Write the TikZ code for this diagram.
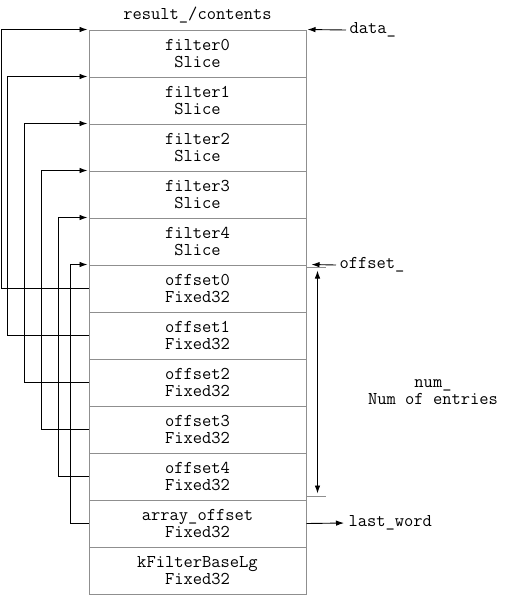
\documentclass[tikz,border=0pt]{standalone}
\usepackage{fontspec}
\usepackage{tikz}
\usetikzlibrary{positioning,arrows.meta,calc}
\definecolor{cellgray}{HTML}{8F8F8F}

\begin{document}
\begin{tikzpicture}[x=1pt,y=-1pt,font=\ttfamily\fontsize{18}{17}\selectfont,
  c/.style={draw=cellgray,line width=1pt,minimum width=217pt,minimum height=47pt,align=center,inner sep=0pt},
  a/.style={-{Latex[length=8pt,width=5.5pt]},line width=0.9pt,shorten >=1pt},
  t/.style={draw=cellgray,line width=1pt}]
  \useasboundingbox (0,0) rectangle (506,595);
  \foreach \i/\a/\n in {0/filter0/Slice, 1/filter1/Slice, 2/filter2/Slice, 3/filter3/Slice, 4/filter4/Slice,
    5/offset0/Fixed32, 6/offset1/Fixed32, 7/offset2/Fixed32, 8/offset3/Fixed32, 9/offset4/Fixed32,
    10/array\_offset/Fixed32, 11/kFilterBaseLg/Fixed32}
    {\node[c] (r\i) at (197.5,{53.5+47*\i}) {\a\\\n};}
  \foreach \i/\x in {0/2, 1/8, 2/25, 3/42, 4/59}
    {\pgfmathtruncatemacro\j{\i+5}
     \draw[a] (r\j.west) -- ++({\x-89},0) |- (r\i.north west);}
  \draw[a] (r10.west) -- ++(-18,0) |- (r5.north west);
  \node (res) at (197.5,15) {result\_/contents};
  \node[anchor=west] (data) at (346,30) {data\_};
  \draw[a] (data.west) -- (r0.north east);
  \node[anchor=west] (off) at (336,265) {offset\_};
  \draw[a] (off.west) -- ($(r5.north east)+(4,0)$);
  \draw[t] ($(r5.north east)+(0,3)$) coordinate (ttop) -- ++(19,0);
  \draw[t] ($(r10.north east)+(0,-3)$) coordinate (tbot) -- ++(19,0);
  \draw[{Latex[length=8pt,width=5.5pt]}-{Latex[length=8pt,width=5.5pt]},line width=0.9pt]
    ($(ttop)+(11,3)$) -- ($(tbot)+(11,-3)$);
  \node[align=center] (num) at (433,392) {num\_\\Num of entries};
  \node[anchor=west] (lw) at (345,523) {last\_word};
  \draw[a] (r10.east) -- (lw.west);
\end{tikzpicture}
\end{document}
